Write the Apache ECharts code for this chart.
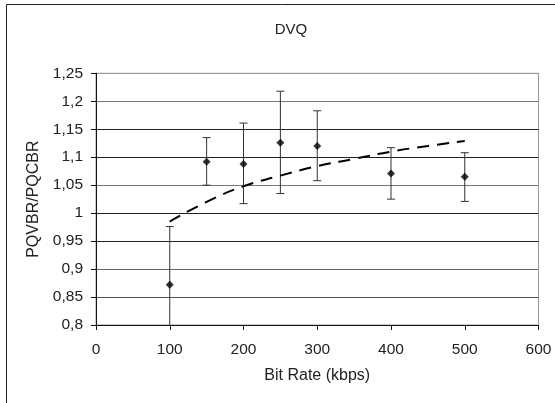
<!DOCTYPE html>
<html>
<head>
<meta charset="utf-8">
<script src="https://cdn.jsdelivr.net/npm/echarts@6/dist/echarts.min.js"></script>
<style>html,body{margin:0;padding:0;background:#fff}#c{width:555px;height:403px}</style>
</head>
<body>
<div id="c"></div>
<script>
// Data
var bitRates = [100, 150, 200, 250, 300, 400, 500];
var ratioMean = [0.872, 1.092, 1.088, 1.126, 1.120, 1.071, 1.065];
var ratioUpper = [0.976, 1.135, 1.161, 1.218, 1.183, 1.117, 1.108];
var ratioLower = [0.768, 1.050, 1.017, 1.035, 1.058, 1.025, 1.021];
var trendX = [100, 150, 200, 250, 300, 350, 400, 450, 500];
var trendY = [0.985, 1.020, 1.048, 1.067, 1.084, 1.097, 1.110, 1.120, 1.129];

var chart = echarts.init(document.getElementById('c'), null, {renderer: 'canvas'});
var font = 'Liberation Sans, Arial, sans-serif';

var pts = bitRates.map(function (x, i) { return [x, ratioMean[i]]; });
var bars = bitRates.map(function (x, i) { return [x, ratioLower[i], ratioUpper[i]]; });
var trend = trendX.map(function (x, i) { return [x, trendY[i]]; });

chart.setOption({
  animation: false,
  backgroundColor: '#fff',
  graphic: [{
    type: 'rect', silent: true, z: -1,
    shape: {x: 6.5, y: 4.5, width: 700, height: 600},
    style: {fill: 'none', stroke: '#222', lineWidth: 1}
  }],
  title: {
    text: 'DVQ', left: 286, top: 17, textAlign: 'center',
    textStyle: {fontFamily: font, fontSize: 15, fontWeight: 'normal', color: '#222'}
  },
  grid: {left: 96, right: 16.5, top: 73.3, bottom: 78, show: true, borderColor: '#999', borderWidth: 1, backgroundColor: '#fff'},
  xAxis: {
    type: 'value', min: 0, max: 600, interval: 100,
    name: 'Bit Rate (kbps)', nameLocation: 'middle', nameGap: 43,
    nameTextStyle: {fontFamily: font, fontSize: 16, color: '#222'},
    axisLine: {show: true, lineStyle: {color: '#111', width: 1}},
    axisTick: {show: true, length: 5, lineStyle: {color: '#111'}},
    axisLabel: {margin: 17, fontFamily: font, fontSize: 15.5, color: '#222'},
    splitLine: {show: false}
  },
  yAxis: {
    type: 'value', min: 0.8, max: 1.25, interval: 0.05,
    name: 'PQVBR/PQCBR', nameLocation: 'middle', nameGap: 52,
    nameTextStyle: {fontFamily: font, fontSize: 16, color: '#222'},
    axisLine: {show: true, lineStyle: {color: '#111', width: 1}},
    axisTick: {show: true, length: 5, lineStyle: {color: '#111'}},
    axisLabel: {
      margin: 13, fontFamily: font, fontSize: 15.5, color: '#222',
      formatter: function (v) { return String(Math.round(v * 100) / 100).replace('.', ','); }
    },
    splitLine: {show: true, lineStyle: {width: 1, color: ['#111', '#555', '#666', '#222', '#222', '#777', '#222', '#222', '#777', '#999']}}
  },
  series: [
    {
      type: 'custom', name: 'err', clip: true, z: 3,
      renderItem: function (params, api) {
        var x = api.value(0);
        var lo = api.coord([x, api.value(1)]);
        var hi = api.coord([x, api.value(2)]);
        var w = 4;
        var st = {stroke: '#333', lineWidth: 1};
        return {type: 'group', children: [
          {type: 'line', shape: {x1: hi[0], y1: hi[1], x2: lo[0], y2: lo[1]}, style: st},
          {type: 'line', shape: {x1: hi[0] - w, y1: hi[1], x2: hi[0] + w, y2: hi[1]}, style: st},
          {type: 'line', shape: {x1: lo[0] - w, y1: lo[1], x2: lo[0] + w, y2: lo[1]}, style: st}
        ]};
      },
      encode: {x: 0, y: [1, 2]},
      data: bars
    },
    {
      type: 'line', name: 'trend', data: trend, smooth: true, symbol: 'none', z: 4,
      lineStyle: {color: '#000', width: 2, type: [12, 8]}
    },
    {
      type: 'scatter', name: 'mean', data: pts, symbol: 'diamond', symbolSize: 8, z: 5,
      itemStyle: {color: '#000'}
    }
  ]
});
</script>
</body>
</html>
